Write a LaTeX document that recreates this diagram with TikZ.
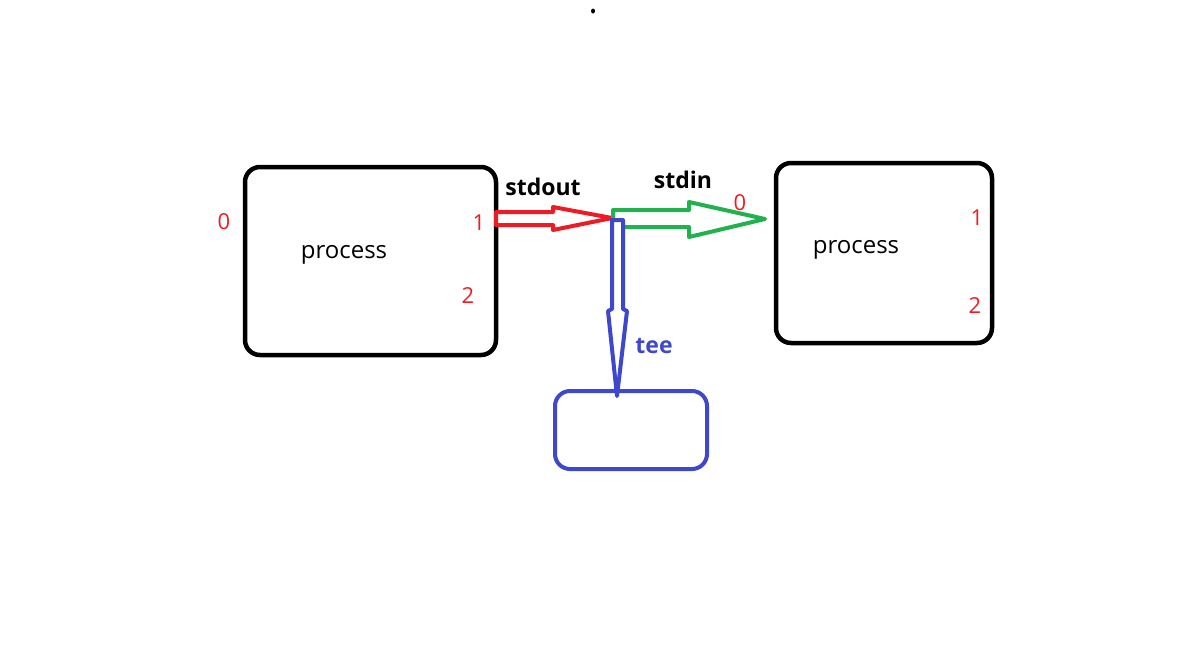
\documentclass[tikz,border=0pt]{standalone}
\usepackage{fontspec}
\setmainfont{Open Sans}
\begin{document}
\begin{tikzpicture}[x=1pt,y=-1pt,
  procbox/.style={draw=black,line width=4.5pt,rounded corners=15pt},
  numlbl/.style={text=numred,font=\fontsize{22}{24}\selectfont,anchor=base,inner sep=0pt},
  proclbl/.style={font=\fontsize{24}{26}\selectfont,anchor=base,inner sep=0pt},
  strlbl/.style={font=\bfseries\fontsize{23}{25}\selectfont,anchor=base,inner sep=0pt},
  hollow/.style={line width=4pt,line join=round,fill=white}]
\definecolor{numred}{HTML}{ED1C24}
\definecolor{pgreen}{HTML}{22B14C}
\definecolor{pblue}{HTML}{3F48CC}
\useasboundingbox (0,0) rectangle (1184,670);
\fill[black] (593,11) ellipse (2pt and 2.5pt);
% boxes
\draw[procbox] (245,167) rectangle (496,355);
\draw[procbox] (776,163) rectangle (992,343);
\draw[line width=4pt,draw=pblue,rounded corners=15pt] (555,391) rectangle (707,469);
\coordinate (lp) at (496,218);
\coordinate (junc) at (612,218);
\coordinate (rp) at (765,219);
\coordinate (tp) at (617,396);
% red arrow
\draw[hollow,draw=numred] (lp) ++(0,-6) -- (553,212) -- (553,207) -- (junc) -- (553,230) -- (553,225) -- (496,225) -- cycle;
% green arrow
\draw[hollow,draw=pgreen] (613,210) -- (689,210) -- (689,202) -- (rp) -- (689,237) -- (689,227) -- (613,227) -- cycle;
% blue arrow
\draw[hollow,draw=pblue] (612,220) -- (623,220) -- (623,309) -- (627,311) -- (tp) -- (608,311) -- (612,309) -- cycle;
% labels
\node[proclbl] (p1) at (344,258) {process};
\node[proclbl] (p2) at (856,253) {process};
\node[numlbl] (l0) at (224,229) {0};
\node[numlbl] (l1) at (479,230) {1};
\node[numlbl] (l2) at (468,303) {2};
\node[numlbl] (r0) at (740,210) {0};
\node[numlbl] (r1) at (977,225) {1};
\node[numlbl] (r2) at (975,313) {2};
\node[strlbl] (so) at (543,195) {stdout};
\node[strlbl] (si) at (683,188) {stdin};
\node[strlbl,text=pblue] (te) at (654,353) {tee};
\end{tikzpicture}
\end{document}
